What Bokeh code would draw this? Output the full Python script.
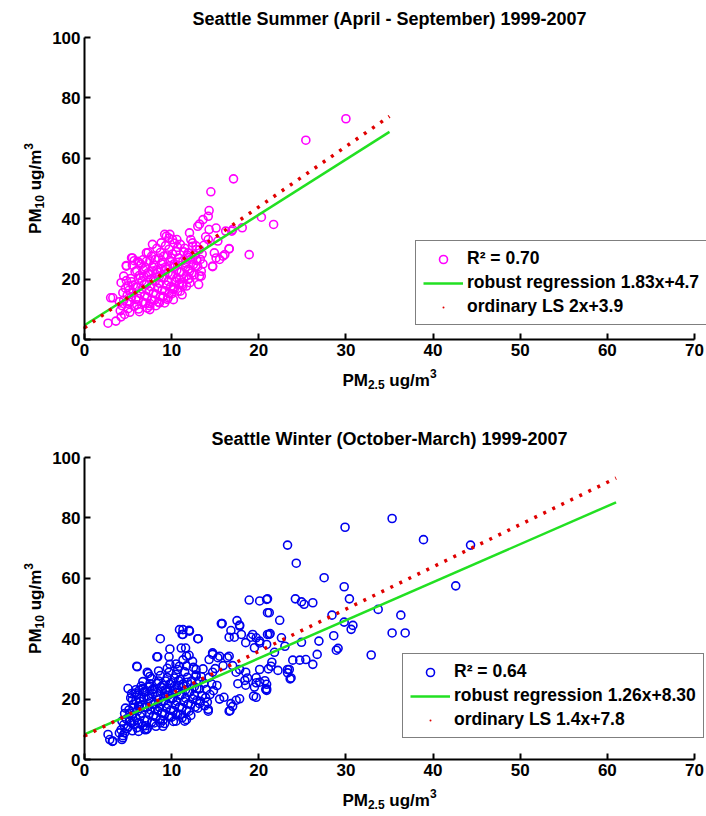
import math
from bokeh.plotting import figure
from bokeh.models import Legend, LegendItem, FixedTicker, ColumnDataSource, Range1d, Label
from bokeh.layouts import column
from bokeh.embed import file_html
from bokeh.resources import INLINE

# ---------------- data ----------------
summer_pts = [
    (30.0, 73.1), (25.4, 66.0), (17.1, 53.2), (14.5, 48.9), (14.3, 42.7), (14.2, 40.8), (13.6, 39.7),
    (13.0, 37.5), (13.2, 38.2), (20.3, 40.5), (21.7, 38.1), (18.1, 37.0), (18.9, 28.1), (16.6, 30.1),
    (16.9, 35.9), (16.2, 35.9), (15.1, 36.9), (14.3, 36.4), (14.2, 33.1), (15.3, 32.6), (14.9, 28.7),
    (14.7, 24.3), (15.9, 27.6), (15.5, 26.5), (15.1, 27.0), (16.1, 28.1), (13.1, 18.2), (13.2, 21.0),
    (13.4, 22.6), (12.8, 24.3), (12.05, 35.3), (12.2, 33.1), (12.4, 30.9), (12.8, 29.8), (11.9, 28.7),
    (10.6, 33.1), (9.7, 33.6), (9.2, 34.8), (9.8, 34.8), (7.8, 31.5), (8.8, 32.0), (5.5, 27.0),
    (4.8, 24.3), (6.3, 25.4), (7.1, 25.9), (3.0, 13.8), (2.7, 5.4), (3.6, 6.1), (4.2, 18.8),
    (10.9, 19.9), (11.3, 17.7), (11.9, 19.9), (12.05, 22.6), (9.6, 13.8), (10.3, 16.6), (8.6, 12.1),
    (7.5, 11.1), (17.0, 36.4), (16.6, 30.0), (14.7, 24.1), (13.4, 21.0), (11.7, 17.7), (11.2, 18.8),
    (10.1, 16.6), (7.5, 9.9), (9.0, 14.3), (10.1, 33.1), (9.4, 34.2), (7.1, 28.7), (6.1, 25.9),
    (5.4, 27.0), (4.8, 24.5), (3.25, 13.8),
    (4.1, 9.5), (4.3, 11.2), (4.5, 13.0), (4.4, 15.5), (4.7, 17.0), (4.9, 12.0), (4.6, 8.3), (4.2, 7.5),
    (4.8, 19.5), (4.5, 21.0), (4.9, 14.6), (4.0, 12.5),
    (5.0, 10.2), (5.2, 12.4), (5.4, 14.1), (5.1, 16.3), (5.6, 18.0), (5.3, 20.2), (5.8, 22.5), (5.5, 24.6),
    (5.7, 11.0), (5.9, 13.2), (5.2, 9.0), (5.6, 15.5), (5.9, 17.4), (5.4, 19.1), (5.0, 17.8), (5.7, 26.1),
    (6.0, 11.5), (6.2, 13.6), (6.4, 15.2), (6.1, 17.3), (6.6, 19.4), (6.3, 21.2), (6.8, 23.0), (6.5, 24.9),
    (6.7, 12.3), (6.9, 14.5), (6.2, 10.1), (6.6, 16.7), (6.9, 18.4), (6.4, 20.3), (6.0, 22.8), (6.7, 26.4),
    (6.3, 9.2), (6.8, 20.9),
    (7.0, 12.0), (7.2, 14.0), (7.4, 16.1), (7.1, 18.2), (7.6, 20.0), (7.3, 22.1), (7.8, 24.0), (7.5, 26.0),
    (7.7, 13.1), (7.9, 15.4), (7.2, 10.4), (7.6, 17.5), (7.9, 19.6), (7.4, 21.5), (7.0, 23.9), (7.7, 27.6),
    (7.3, 28.8), (7.8, 22.7), (7.5, 11.9),
    (8.0, 13.0), (8.2, 15.0), (8.4, 17.0), (8.1, 19.2), (8.6, 21.0), (8.3, 23.1), (8.8, 25.1), (8.5, 27.0),
    (8.7, 14.2), (8.9, 16.3), (8.2, 11.2), (8.6, 18.6), (8.9, 20.5), (8.4, 22.3), (8.0, 24.6), (8.7, 28.8),
    (8.3, 30.2), (8.8, 23.5), (8.5, 12.4), (8.1, 26.5),
    (9.0, 14.0), (9.2, 16.1), (9.4, 18.0), (9.1, 20.3), (9.6, 22.1), (9.3, 24.0), (9.8, 26.2), (9.5, 28.0),
    (9.7, 15.2), (9.9, 17.5), (9.2, 12.1), (9.6, 19.3), (9.9, 21.4), (9.4, 23.3), (9.0, 25.6), (9.7, 29.9),
    (9.3, 31.1), (9.8, 24.4), (9.5, 13.3), (9.1, 27.6),
    (10.0, 15.1), (10.2, 17.3), (10.4, 19.2), (10.1, 21.4), (10.6, 23.0), (10.3, 25.1), (10.8, 27.0),
    (10.5, 29.1), (10.7, 16.0), (10.9, 18.5), (10.2, 13.2), (10.6, 20.4), (10.9, 22.3), (10.4, 24.2),
    (10.0, 26.9), (10.7, 30.5), (10.3, 31.9), (10.8, 25.6), (10.1, 28.3),
    (11.0, 16.0), (11.2, 18.2), (11.4, 20.1), (11.1, 22.4), (11.6, 24.0), (11.3, 26.1), (11.8, 28.0),
    (11.5, 30.2), (11.7, 21.1), (11.9, 23.3), (11.2, 14.8), (11.6, 25.3), (11.9, 27.2), (11.4, 29.0),
    (11.0, 31.5),
    (12.0, 20.2), (12.3, 22.0), (12.5, 24.8), (12.2, 26.6), (12.7, 28.0), (12.4, 32.0), (12.9, 26.1),
    (12.6, 21.4), (12.1, 18.8), (12.8, 31.0),
    (13.0, 24.1), (13.3, 26.5), (13.5, 28.3), (13.7, 31.2), (13.9, 34.0), (13.2, 29.8), (13.6, 25.0),
]
summer_x = [p[0] for p in summer_pts]
summer_y = [p[1] for p in summer_pts]

winter_pts = [
    (18.9, 52.8), (20.1, 52.5), (20.9, 53.0), (15.8, 45.0), (17.5, 46.0), (17.8, 44.5), (16.8, 42.7),
    (16.6, 40.5), (17.2, 40.5), (18.0, 41.4), (19.1, 40.5), (19.3, 41.4), (19.7, 40.3), (20.1, 39.2),
    (18.5, 38.7), (19.5, 37.0), (20.9, 38.1), (21.0, 48.6), (21.0, 41.4), (11.3, 43.0), (12.0, 42.8),
    (11.3, 41.4), (8.7, 40.0), (13.0, 40.0), (9.8, 36.6), (8.3, 34.0), (11.1, 36.9), (11.6, 36.9),
    (9.7, 34.0), (11.7, 34.2), (6.05, 30.7), (7.2, 28.9), (9.8, 31.5), (10.9, 30.9), (12.8, 29.8),
    (14.3, 33.1), (14.7, 34.8), (15.3, 33.7), (15.5, 34.2), (16.4, 33.7), (14.7, 28.9), (15.9, 31.1),
    (17.0, 31.1), (17.4, 28.9), (18.5, 28.9), (19.7, 27.1), (20.1, 25.6), (20.7, 26.1), (17.6, 25.1),
    (18.5, 24.6), (18.4, 26.2), (19.5, 24.0), (20.9, 23.4), (19.7, 20.6), (16.0, 20.6), (16.8, 18.5),
    (17.4, 19.6), (17.8, 20.1), (16.7, 16.2), (14.2, 16.0), (13.2, 18.5), (11.5, 12.7), (10.5, 12.7),
    (9.8, 14.3), (8.7, 12.1), (6.9, 9.9), (5.7, 12.7), (4.6, 8.8), (4.0, 8.8), (2.7, 8.3), (3.2, 6.0),
    (4.3, 6.6), (5.5, 19.8), (5.9, 23.1), (6.7, 23.6), (7.5, 24.2), (6.2, 17.6),
    (35.3, 79.8), (29.9, 76.9), (38.9, 72.8), (23.3, 71.0), (24.3, 65.0), (27.5, 60.2), (29.8, 57.2),
    (30.4, 53.2), (21.0, 53.2), (24.2, 53.2), (24.9, 52.2), (25.2, 51.4), (26.2, 51.9), (21.2, 48.6),
    (22.4, 46.1), (33.7, 49.7), (36.3, 47.8), (42.6, 57.5), (28.4, 47.8), (29.8, 45.5), (30.8, 44.4),
    (30.6, 43.1), (35.3, 41.9), (36.8, 41.9), (21.3, 41.7), (22.6, 40.3), (28.6, 41.0), (24.9, 38.8),
    (26.9, 39.2), (28.9, 36.2), (29.1, 36.8), (26.7, 34.8), (32.9, 34.6), (23.0, 37.5), (21.8, 35.5),
    (23.9, 32.9), (24.7, 32.9), (25.4, 33.1), (26.2, 31.5), (21.5, 32.2), (21.4, 30.9), (21.1, 30.0),
    (22.2, 29.5), (23.3, 29.8), (23.3, 28.7), (23.6, 26.7), (20.9, 22.9), (20.9, 24.9), (44.3, 71.0),
    (10.9, 43.0), (11.2, 41.4), (12.05, 42.5), (13.05, 40.0), (8.4, 34.0), (6.0, 30.9), (7.3, 28.5),
    (15.7, 45.0), (21.2, 41.4), (23.5, 29.8), (23.7, 27.0), (20.8, 23.2), (19.4, 21.0), (17.0, 17.6),
    (16.6, 16.0), (14.2, 16.6), (11.7, 13.2), (10.5, 14.8), (9.0, 11.0), (7.1, 9.9), (2.9, 6.6),
    (3.25, 6.1), (4.4, 7.2), (5.4, 12.1), (6.3, 17.7), (12.8, 27.6), (14.0, 23.2), (14.7, 35.3),
    (16.6, 34.2), (17.8, 29.8), (18.7, 27.0), (19.7, 25.4), (20.1, 29.8), (20.1, 38.6), (17.8, 44.2),
    (4.2, 9.8), (4.5, 11.5), (4.8, 13.4), (4.6, 15.2), (4.9, 10.3), (4.3, 12.7), (4.7, 17.0), (4.4, 7.9),
    (5.0, 10.8), (5.2, 12.6), (5.4, 14.5), (5.1, 16.4), (5.6, 18.3), (5.3, 20.4), (5.8, 22.0), (5.5, 9.5),
    (5.7, 11.6), (5.9, 13.8), (5.2, 15.4), (5.6, 17.1), (5.9, 19.5), (5.4, 21.8), (5.0, 23.5),
    (6.0, 10.5), (6.2, 12.2), (6.4, 14.3), (6.1, 16.1), (6.6, 18.0), (6.3, 20.1), (6.8, 22.4), (6.5, 24.3),
    (6.7, 11.1), (6.9, 13.0), (6.2, 9.3), (6.6, 15.3), (6.9, 17.2), (6.4, 19.2), (6.0, 21.3), (6.7, 25.8),
    (6.3, 23.0), (6.8, 20.5),
    (7.0, 11.2), (7.2, 13.1), (7.4, 15.0), (7.1, 17.3), (7.6, 19.1), (7.3, 21.0), (7.8, 23.2), (7.5, 25.1),
    (7.7, 12.3), (7.9, 14.5), (7.2, 10.2), (7.6, 16.4), (7.9, 18.3), (7.4, 20.2), (7.0, 22.4), (7.7, 26.8),
    (7.3, 24.0), (7.8, 21.7), (7.5, 27.5),
    (8.0, 12.1), (8.2, 14.0), (8.4, 16.2), (8.1, 18.3), (8.6, 20.1), (8.3, 22.2), (8.8, 24.1), (8.5, 26.0),
    (8.7, 13.2), (8.9, 15.4), (8.2, 11.0), (8.6, 17.3), (8.9, 19.2), (8.4, 21.1), (8.0, 23.4), (8.7, 27.8),
    (8.3, 25.2), (8.8, 22.7), (8.5, 29.3), (8.1, 16.7),
    (9.0, 13.0), (9.2, 15.1), (9.4, 17.0), (9.1, 19.3), (9.6, 21.2), (9.3, 23.1), (9.8, 25.0), (9.5, 27.1),
    (9.7, 14.2), (9.9, 16.3), (9.2, 11.9), (9.6, 18.2), (9.9, 20.1), (9.4, 22.4), (9.0, 24.6), (9.7, 28.9),
    (9.3, 26.0), (9.8, 23.6), (9.5, 30.2), (9.1, 21.0),
    (10.0, 14.0), (10.2, 16.2), (10.4, 18.1), (10.1, 20.2), (10.6, 22.3), (10.3, 24.2), (10.8, 26.1),
    (10.5, 28.2), (10.7, 15.0), (10.9, 17.4), (10.2, 12.6), (10.6, 19.3), (10.9, 21.2), (10.4, 23.1),
    (10.0, 25.4), (10.7, 29.8), (10.3, 27.0), (10.8, 24.5), (10.5, 31.6), (10.1, 22.0),
    (11.0, 15.0), (11.2, 17.1), (11.4, 19.2), (11.1, 21.3), (11.6, 23.1), (11.3, 25.0), (11.8, 27.2),
    (11.5, 29.0), (11.7, 16.2), (11.9, 18.4), (11.2, 13.8), (11.6, 20.3), (11.9, 22.2), (11.4, 24.3),
    (11.0, 26.5), (11.7, 31.0), (11.3, 33.0), (11.8, 25.6),
    (12.0, 16.0), (12.2, 18.3), (12.4, 20.1), (12.1, 22.4), (12.6, 24.1), (12.3, 26.0), (12.8, 28.0),
    (12.5, 30.5), (12.7, 17.4), (12.9, 19.6), (12.2, 14.6), (12.6, 21.3), (12.9, 23.5), (12.4, 32.5),
    (12.0, 34.5),
    (13.0, 17.0), (13.3, 19.3), (13.5, 21.2), (13.2, 23.4), (13.7, 25.2), (13.4, 27.4), (13.9, 20.5),
    (13.6, 30.0), (13.1, 26.0), (13.8, 17.8),
    (14.1, 19.0), (14.4, 21.5), (14.6, 25.0), (14.3, 27.2), (14.8, 22.8), (15.0, 30.1), (15.2, 24.5),
    (15.5, 20.0),
]
winter_x = [p[0] for p in winter_pts]
winter_y = [p[1] for p in winter_pts]

# fitted lines (end points)
summer_fit_x = [0, 35]
summer_robust_y = [4.7, 68.75]
summer_ols_y = [3.9, 73.9]
winter_fit_x = [0, 61]
winter_robust_y = [8.30, 85.16]
winter_ols_y = [7.8, 93.2]

x_ticks = [0, 10, 20, 30, 40, 50, 60, 70]
y_ticks = [0, 20, 40, 60, 80, 100]
x_bounds = (0, 70)
y_bounds = (0, 100)

summer_title = "Seattle Summer (April - September) 1999-2007"
winter_title = "Seattle Winter (October-March) 1999-2007"
summer_labels = ["R\u00b2 = 0.70", "robust regression 1.83x+4.7", "ordinary LS 2x+3.9"]
winter_labels = ["R\u00b2 = 0.64", "robust regression 1.26x+8.30", "ordinary LS 1.4x+7.8"]
# axis titles as pieces: PM_{2.5} ug/m^3 and PM_{10} ug/m^3
x_label_parts = [("PM", "main"), ("2.5", "sub"), ("ug/m", "main"), ("3", "sup")]
y_label_parts = [("PM", "main"), ("10", "sub"), ("ug/m", "main"), ("3", "sup")]

FONT = "Liberation Sans"
MAIN_PX = 17
SMALL_PX = 12
# Liberation Sans bold advance widths (per 1000 em)
ADV = {"P": 667, "M": 833, "u": 611, "g": 611, "/": 278, "m": 889, "0": 556, "1": 556,
       "2": 556, "3": 556, "5": 556, ".": 278, " ": 278}

# layout (pixels): axis frame 610 x 302 inside each figure
FIG_W = 706
AX_LEFT = 84
PX_X = 610 / 70.0
PX_Y = 302 / 100.0


def text_w(s, px):
    return sum(ADV.get(c, 556) for c in s) * px / 1000.0


def style_label(lab, px):
    lab.text_font = FONT
    lab.text_font_size = f"{px}px"
    lab.text_font_style = "bold"
    lab.text_color = "black"
    return lab


def add_axis_title(p, parts, vertical):
    pieces = []
    for i, (t, role) in enumerate(parts):
        px = MAIN_PX if role == "main" else SMALL_PX
        w = text_w(t, px)
        if i == 1:
            w += text_w(" ", MAIN_PX)
        pieces.append((t, role, px, w))
    total = sum(w for *_, w in pieces)
    pos = -total / 2.0
    for t, role, px, w in pieces:
        shift = {"main": 0, "sub": -4, "sup": 7}[role]
        if vertical:
            lab = Label(x=0, y=50, x_offset=-49 - shift, y_offset=pos, text=t,
                        angle=math.pi / 2, text_align="left", text_baseline="alphabetic")
        else:
            lab = Label(x=35, y=0, x_offset=pos, y_offset=-41 + shift, text=t,
                        text_align="left", text_baseline="alphabetic")
        p.add_layout(style_label(lab, px))
        pos += w


def panel(title, xs, ys, color, fx, ry, oy, labels, leg_loc, height, top):
    bottom_px = height - top - 302
    xr = Range1d(-AX_LEFT / PX_X, (FIG_W - AX_LEFT) / PX_X)
    yr = Range1d(-bottom_px / PX_Y, 100 + top / PX_Y)
    p = figure(width=FIG_W, height=height, output_backend="svg", toolbar_location=None,
               x_range=xr, y_range=yr, title=None,
               min_border_left=0, min_border_right=0, min_border_top=0, min_border_bottom=0,
               background_fill_color="white", border_fill_color="white")
    p.outline_line_color = None
    p.grid.visible = False

    for ax, ticks, bounds in ((p.xaxis, x_ticks, x_bounds), (p.yaxis, y_ticks, y_bounds)):
        ax.ticker = FixedTicker(ticks=ticks)
        ax.fixed_location = 0
        ax.bounds = bounds
        ax.minor_tick_line_color = None
        ax.axis_line_width = 2
        ax.axis_line_color = "black"
        ax.major_tick_line_width = 2
        ax.major_tick_in = 6
        ax.major_tick_out = 0
        ax.major_label_text_font = FONT
        ax.major_label_text_font_size = "17px"
        ax.major_label_text_font_style = "bold"
        ax.major_label_text_color = "black"
        ax.major_label_standoff = 4

    p.add_layout(style_label(Label(x=35, y=100, y_offset=19, text=title, text_align="center",
                                   text_baseline="middle"), 18))
    add_axis_title(p, x_label_parts, False)
    add_axis_title(p, y_label_parts, True)

    src = ColumnDataSource(dict(x=xs, y=ys))
    sc = p.scatter("x", "y", source=src, marker="circle", size=8, fill_color=None,
                   line_color=color, line_width=1.6)
    rob = p.line(fx, ry, line_color="#22e022", line_width=2.5)
    p.line(fx, oy, line_color="#e00000", line_width=3.5, line_dash="3 7")
    dot = p.scatter(fx[:1], oy[:1], marker="dot", size=10, fill_color="#e00000",
                    line_color="#e00000", line_width=3)

    leg = Legend(items=[LegendItem(label=labels[0], renderers=[sc]),
                        LegendItem(label=labels[1], renderers=[rob]),
                        LegendItem(label=labels[2], renderers=[dot])],
                 location=leg_loc, margin=0, padding=7, spacing=3,
                 glyph_width=40, glyph_height=20, label_height=20, label_standoff=4,
                 border_line_color="black", border_line_width=1.5,
                 background_fill_color="white", background_fill_alpha=1,
                 label_text_font=FONT, label_text_font_size="17.5px",
                 label_text_font_style="bold", label_text_color="black")
    p.add_layout(leg, "center")
    return p


p1 = panel(summer_title, summer_x, summer_y, "#ff00ff", summer_fit_x, summer_robust_y, summer_ols_y,
           summer_labels, (415, 75), 400, 37)
p2 = panel(winter_title, winter_x, winter_y, "#0000ee", winter_fit_x, winter_robust_y, winter_ols_y,
           winter_labels, (402, 75), 413, 57)

layout = column(p1, p2, spacing=0)
open("out.html", "w").write(file_html(layout, INLINE))
